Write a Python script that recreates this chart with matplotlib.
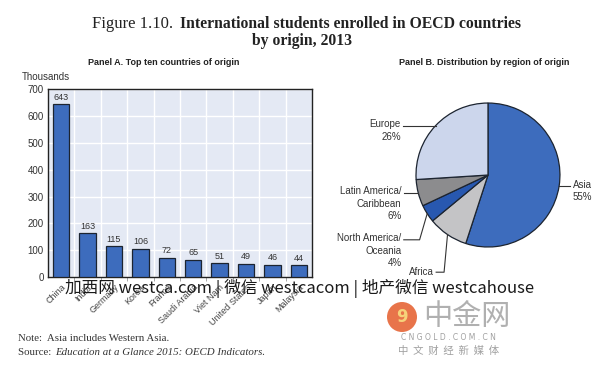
import numpy as np
import matplotlib
matplotlib.use('Agg')
import matplotlib.pyplot as plt
from matplotlib.patches import Circle

# Data
countries = ['China', 'India', 'Germany', 'Korea', 'France', 'Saudi Arabia',
             'Viet Nam', 'United States', 'Japan', 'Malaysia']
students  = [643, 163, 115, 106, 72, 65, 51, 49, 46, 44]

regions   = ['Asia', 'Africa', 'North America/\nOceania', 'Latin America/\nCaribbean', 'Europe']
shares    = [55, 9, 4, 6, 26]
show_pct  = [True, False, True, True, True]

narrow = ['Liberation Sans', 'DejaVu Sans']
serif  = ['Liberation Serif', 'DejaVu Serif']
cjk    = ['Noto Sans CJK SC', 'DejaVu Sans']

fig = plt.figure(figsize=(6, 3.68), dpi=100)

# Title
fig.text(0.288, 0.936, 'Figure 1.10.', family=serif, fontsize=12, va='center', ha='right', color='#222222')
fig.text(0.300, 0.936, 'International students enrolled in OECD countries', family=serif,
         fontsize=11.3, fontweight='bold', va='center', ha='left', color='#222222')
fig.text(0.503, 0.889, 'by origin, 2013', family=serif, fontsize=11.3, fontweight='bold',
         va='center', ha='center', color='#222222')

fig.text(0.272, 0.830, 'Panel A. Top ten countries of origin', family=narrow, fontsize=6.5,
         fontweight='bold', ha='center', va='center', color='#222222')
fig.text(0.807, 0.830, 'Panel B. Distribution by region of origin', family=narrow, fontsize=6.5,
         fontweight='bold', ha='center', va='center', color='#222222')

# ---- Panel A: bars ----
ax = fig.add_axes([0.08, 0.247, 0.44, 0.511])
ax.set_facecolor('#E4E9F4')
x = np.arange(len(countries))
ax.bar(x, students, width=0.62, color='#3D6CBD', edgecolor='#1C2430', linewidth=0.9, zorder=3)
for xi, v in zip(x, students):
    ax.text(xi, v + 10, str(v), ha='center', va='bottom', fontsize=6.5, family=narrow, color='#333333')

ax.set_xlim(-0.5, len(countries) - 0.5)
ax.set_ylim(0, 700)
ax.set_yticks(np.arange(0, 701, 100))
ax.set_xticks(x)
ax.set_xticklabels(countries, rotation=45, ha='right', rotation_mode='anchor',
                   fontsize=6.5, family=narrow, color='#444444')
ax.set_xticks(np.arange(0.5, len(countries) - 0.5, 1), minor=True)
ax.tick_params(axis='x', which='major', length=0, pad=4)
ax.tick_params(axis='x', which='minor', length=3, color='#999999', direction='out')
ax.tick_params(axis='y', length=0, labelsize=7, pad=3, labelcolor='#333333')
for lbl in ax.get_yticklabels():
    lbl.set_family(narrow)
ax.grid(axis='y', color='white', linewidth=1.0, zorder=0)
ax.grid(axis='x', which='minor', color='white', linewidth=1.0, zorder=0)
for s in ax.spines.values():
    s.set_color('#222222')
    s.set_linewidth(1.0)
fig.text(0.037, 0.790, 'Thousands', family=narrow, fontsize=7, ha='left', va='center', color='#333333')

# ---- Panel B: pie ----
pax = fig.add_axes([0.6633, 0.2799, 0.30, 0.489])
pie_colors = ['#3D6CBD', '#C4C4C6', '#2858B0', '#8C8C8E', '#CCD6EC']
wedges, _ = pax.pie(shares, colors=pie_colors, startangle=90, counterclock=False,
                    wedgeprops=dict(edgecolor='#1C2430', linewidth=0.9))
pax.set_xlim(-1.25, 1.25)
pax.set_ylim(-1.25, 1.25)
pax.set_aspect('equal')
pax.axis('off')

def edge_point(w):
    a = np.deg2rad((w.theta1 + w.theta2) / 2)
    return np.cos(a), np.sin(a)

lab_kw = dict(family=narrow, fontsize=7, color='#333333', linespacing=1.3, clip_on=False)
line_kw = dict(color='#333333', linewidth=0.8, clip_on=False)
for w, name, pct, show in zip(wedges, regions, shares, show_pct):
    ex, ey = edge_point(w)
    text = name + ('\n%d%%' % pct if show else '')
    if name == 'Asia':
        pax.plot([ex, ex + 0.15], [ey, ey], **line_kw)
        pax.text(ex + 0.19, ey + 0.09, text, ha='left', va='top', **lab_kw)
    elif name == 'Europe':
        pax.plot([-1.18, ex], [ey, ey], **line_kw)
        pax.text(-1.21, ey + 0.09, text, ha='right', va='top', **lab_kw)
    elif name.startswith('Latin'):
        pax.plot([-1.17, ex], [ey, ey], **line_kw)
        pax.text(-1.20, ey + 0.09, text, ha='right', va='top', **lab_kw)
    elif name.startswith('North'):
        ly = -0.90
        pax.plot([-1.17, -0.95, ex], [ly, ly, ey], **line_kw)
        pax.text(-1.20, ly + 0.09, text, ha='right', va='top', **lab_kw)
    else:
        ly = -1.35
        pax.plot([-0.72, -0.61, ex], [ly, ly, ey], **line_kw)
        pax.text(-0.75, ly, text, ha='right', va='center', **lab_kw)

# Notes
fig.text(0.030, 0.079, 'Note:  Asia includes Western Asia.', family=serif, fontsize=7.8,
         ha='left', va='center', color='#333333')
fig.text(0.030, 0.043, 'Source:  ', family=serif, fontsize=7.8, ha='left', va='center', color='#333333')
fig.text(0.092, 0.043, 'Education at a Glance 2015: OECD Indicators.', family=serif, fontsize=7.8,
         style='italic', ha='left', va='center', color='#333333')

# Watermarks
fig.text(0.108, 0.217, '加西网 westca.com | 微信 westcacom | 地产微信 westcahouse', family=cjk,
         fontsize=12, ha='left', va='center', color='#1a1a1a')
fig.patches.append(Circle((402, 368 - 317), 15, transform=None,
                          facecolor='#E8744A', edgecolor='none'))
fig.text(402 / 600, 0.139, '9', family=['DejaVu Sans'], fontsize=12, fontweight='bold',
         ha='center', va='center', color='#F6D27A')
fig.text(0.778, 0.139, '中金网', family=cjk, fontsize=21, ha='center', va='center', color='#B0B0B0')
fig.text(0.748, 0.084, 'C N G O L D . C O M . C N', family=['DejaVu Sans'], fontsize=5.5, ha='center',
         va='center', color='#A0A0A0')
fig.text(0.748, 0.046, '中  文  财  经  新  媒  体', family=cjk, fontsize=7.5, ha='center',
         va='center', color='#A0A0A0')

fig.savefig('out.png', dpi=100)
